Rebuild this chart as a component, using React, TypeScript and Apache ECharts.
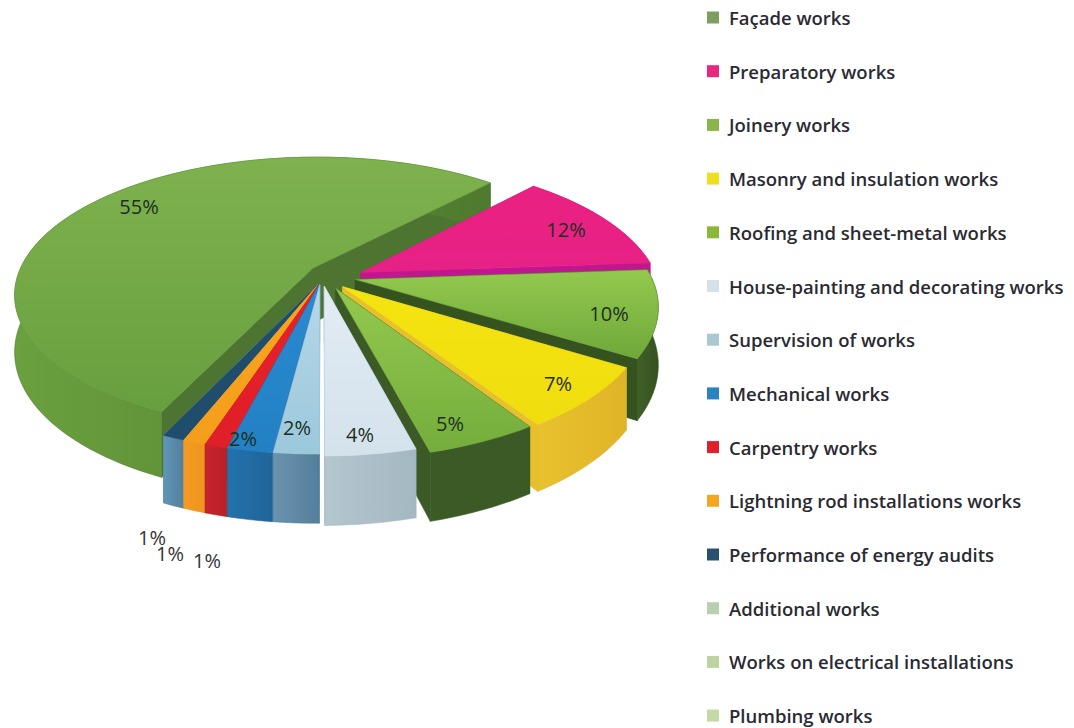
import React, { useEffect, useRef } from "react";
import * as echarts from "echarts";

const categories = [
  "Façade works", "Preparatory works", "Joinery works", "Masonry and insulation works",
  "Roofing and sheet-metal works", "House-painting and decorating works", "Supervision of works",
  "Mechanical works", "Carpentry works", "Lightning rod installations works",
  "Performance of energy audits", "Additional works", "Works on electrical installations", "Plumbing works",
];
const values = [55, 12, 10, 7, 5, 4, 2, 2, 1, 1, 1, 0, 0, 0];
const legendColors = ["#7b9f5e", "#e8287f", "#8bb54a", "#eee020", "#8cb83a", "#d3e2e8", "#a8c9d2", "#2a82c0", "#e0202a", "#f5a623", "#2a5070", "#b8cfb0", "#bcd4a0", "#c4d8a8"];
const topLight = ["#7fb24e", "#ea2180", "#94c94e", "#f4e40e", "#94c94e", "#e2ecf4", "#b4d8e8", "#2a8ad0", "#e8202a", "#f8a51e", "#1f4d6b"];
const topDark = ["#689f3e", "#e62186", "#6fa83a", "#f0dd10", "#74ad3c", "#d4e2ec", "#9cc8dc", "#2380c4", "#e01f28", "#f59e1c", "#1f4d6b"];
const wallLight = ["#6aa03e", "#c01690", "#3f6027", "#e8c22e", "#3c5a26", "#b4c6ce", "#6a93ad", "#2272ac", "#c8242c", "#f59a23", "#5f95b8"];
const wallDark = ["#4f7a2f", "#c01690", "#36521f", "#e0b428", "#3c5a26", "#a4b8c2", "#547f9c", "#1f6598", "#b82028", "#ee951e", "#54809c"];
const sideColors = ["#4d7430", "#c01690", "#35531f", "#e8bf2c", "#3c5a26", "#98aeb8", "#8aa8b8", "#1f6aa0", "#c0222a", "#f09a20", "#8fc4c4"];
const explode = [0.115, 0.07, 0.05, 0.05, 0.05, 0.03, 0.02, 0.02, 0.02, 0.02, 0.02];
const shiftX = [0.01, 0.015, 0.01, -0.02, -0.028, -0.05, -0.06, -0.06, -0.06, -0.06, -0.06];
const shiftY = [-0.04, -0.04, -0.03, 0, 0, 0, 0, 0, 0, 0, 0];
const labelTexts = ["55%", "12%", "10%", "7%", "5%", "4%", "2%", "2%", "1%", "1%", "1%"];
const labelAnchors = [[139, 206], [566, 229], [609, 313], [558, 383], [450, 423], [360, 434], [297, 427], [243, 438], [207, 560], [170, 553], [152, 537]];

const CX = 338, CY = 282, R = 298, K = 0.458, P = 0.187, H = 56, START = -47.4;
const total = values.reduce((a, b) => a + b, 0);
const deg = Math.PI / 180;

const spans: number[][] = [];
{
  // Façade comes last round the circle, so that it spans the back and left of the pie.
  let a = START - (values[0] / total) * 360;
  values.forEach((v) => { const b = a + (v / total) * 360; spans.push([a, b]); a = b; });
}
const order = spans.map((s, i) => ({ i, v: values[i] ? Math.sin(((s[0] + s[1]) / 2) * deg) : -2 }))
  .sort((p, q) => p.v - q.v).map((o) => o.i);

function project(u: number, v: number, depth: number) {
  const s = 1 / (1 - P * v);
  return [CX + R * u * s, CY + R * K * v * s + H * depth * s];
}

function wedgeShapes(i: number) {
  const [a, b] = spans[i];
  const m = ((a + b) / 2) * deg;
  const ox = explode[i] * Math.cos(m) + shiftX[i], oy = explode[i] * Math.sin(m) + shiftY[i];
  const rim = (t: number, d: number) => project(ox + Math.cos(t * deg), oy + Math.sin(t * deg), d);
  const apex = (d: number) => project(ox, oy, d);
  const topArc: number[][] = [], botArc: number[][] = [];
  const n = Math.max(2, Math.ceil((b - a) / 2));
  for (let k = 0; k <= n; k++) {
    const t = a + ((b - a) * k) / n;
    topArc.push(rim(t, 0));
    botArc.push(rim(t, 1));
  }
  return {
    top: [apex(0), ...topArc],
    outer: [...topArc, ...botArc.slice().reverse()],
    startWall: [apex(0), rim(a, 0), rim(a, 1), apex(1)],
    endWall: [apex(0), rim(b, 0), rim(b, 1), apex(1)],
  };
}

function renderSlice(params: any) {
  const i = params.seriesIndex;
  if (!values[i]) return { type: "group", children: [] };
  const rank = order.indexOf(i);
  const s = wedgeShapes(i);
  const poly = (points: number[][], fill: any, stroke: any, z2: number) => ({
    type: "polygon", shape: { points }, z2, silent: true,
    style: { fill, stroke, lineWidth: 0.6 },
  });
  const lg = (x2: number, y2: number, c1: string, c2: string) =>
    new echarts.graphic.LinearGradient(0, 0, x2, y2, [{ offset: 0, color: c1 }, { offset: 1, color: c2 }]);
  return {
    type: "group",
    children: [
      poly(s.startWall, sideColors[i], sideColors[i], rank * 10 + 1),
      poly(s.endWall, sideColors[i], sideColors[i], rank * 10 + 1),
      poly(s.outer, lg(1, 0, wallLight[i], wallDark[i]), wallDark[i], rank * 10 + 2),
      poly(s.top, lg(0, 1, topLight[i], topDark[i]), topDark[i], rank * 10 + 3),
      {
        type: "text", z2: 1000, silent: true,
        x: labelAnchors[i][0], y: labelAnchors[i][1],
        style: {
          text: labelTexts[i], fill: i < 8 ? "#1d2f22" : "#333333",
          font: '500 20px "Open Sans"', align: "center", verticalAlign: "middle",
        },
      },
    ],
  };
}

export default function App() {
  const ref = useRef<HTMLDivElement>(null);
  useEffect(() => {
    document.body.style.margin = "0";
    const chart = echarts.init(ref.current!, undefined, { renderer: "svg" });
    chart.setOption({
      animation: false,
      backgroundColor: "#ffffff",
      legend: {
        orient: "vertical", left: 707, top: 8, padding: 0, itemWidth: 12, itemHeight: 12, itemGap: 34.7,
        icon: "rect", selectedMode: false, data: categories,
        textStyle: { fontFamily: '"Open Sans"', fontWeight: 600, fontSize: 18.5, color: "#2a2a33", padding: [0, 0, 0, 5] },
      },
      series: categories.map((name, i) => ({
        type: "custom", name, coordinateSystem: "none", silent: true,
        itemStyle: { color: legendColors[i] },
        data: [[values[i]]],
        renderItem: renderSlice,
      })),
    });
    return () => chart.dispose();
  }, []);
  return <div ref={ref} style={{ width: 1074, height: 728 }} />;
}
